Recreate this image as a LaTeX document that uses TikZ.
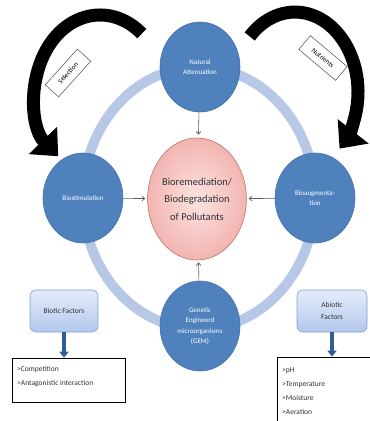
\documentclass[tikz,border=0pt]{standalone}
\usepackage{fontspec}
\setmainfont{Carlito}
\usetikzlibrary{arrows.meta,shapes.geometric}
\definecolor{cblue}{HTML}{4F81BD}
\definecolor{cblueline}{HTML}{4472B0}
\definecolor{ringc}{HTML}{B7C8E6}
\definecolor{pinkin}{HTML}{FBE3E1}
\definecolor{pinkout}{HTML}{F2B5B1}
\definecolor{pinkline}{HTML}{C0706C}
\definecolor{facttop}{HTML}{E3ECFA}
\definecolor{factbot}{HTML}{B4C8EC}
\definecolor{factline}{HTML}{7F9FD3}
\definecolor{darkarrow}{HTML}{2F5E96}
\definecolor{txt}{HTML}{333333}
\tikzset{
  bluecirc/.style={ellipse, fill=cblue, draw=cblueline, line width=0.6pt,
    minimum width=80pt, minimum height=90pt, inner sep=0pt, text=white,
    align=center, font=\fontsize{7}{10.5}\selectfont},
  pinkcirc/.style={ellipse, inner color=pinkin, outer color=pinkout, draw=pinkline,
    line width=0.6pt, minimum width=94pt, minimum height=122pt, inner sep=0pt,
    text=txt, align=center, font=\fontsize{10.5}{17.5}\selectfont},
  ringline/.style={draw=ringc, line width=10pt},
  bigarrow/.style={line width=13pt, black, -{Triangle[width=38pt,length=22pt]}},
  labelbox/.style={draw=black!70, fill=white, line width=0.5pt, minimum width=48pt,
    minimum height=18pt, inner sep=1pt, font=\fontsize{7}{8}\selectfont},
  smallarrow/.style={draw=black!65, line width=0.6pt, -{Straight Barb[length=3pt,width=5pt]}},
  factorbox/.style={rounded corners=6pt, top color=facttop, bottom color=factbot,
    draw=factline, line width=0.6pt, minimum width=68pt, minimum height=42pt,
    align=center, text=txt, font=\fontsize{7.5}{12}\selectfont},
  fatarrow/.style={draw=darkarrow, line width=3.5pt, -{Triangle[width=9pt,length=6pt]}},
  listbox/.style={draw=black, line width=0.6pt, fill=white, inner sep=0pt}
}
\begin{document}
\begin{tikzpicture}[x=1pt,y=-1pt]
\useasboundingbox (0,0) rectangle (370,421);
% ring
\draw[ringline] (199,198) ellipse [x radius=116, y radius=131];
% big curved arrows
\draw[bigarrow] (141.8,33.7) arc[start angle=-50, end angle=-230, x radius=65, y radius=80];
\draw[bigarrow] (249.7,36.5) arc[start angle=-136, end angle=45, x radius=63, y radius=80];
\node[labelbox, rotate=48] (sel) at (68,73) {Selection};
\node[labelbox, rotate=-40] (nut) at (323,58) {Nutrients};
% circles
\node[bluecirc] (na) at (200,67) {Natural\\Attenuation};
\node[bluecirc] (bs) at (83,198) {Biostimulation};
\node[bluecirc] (ba) at (315,198) {Bioaugmenta-\\tion};
\node[bluecirc] (gem) at (200,326) {Genetic\\Engineerd\\microorganisms\\(GEM)};
\node[pinkcirc] (pink) at (197,199) {Bioremediation/\\Biodegradation\\of Pollutants};
% small arrows
\draw[smallarrow, shorten >=3pt] (na) -- (pink);
\draw[smallarrow, shorten >=2pt] (bs) -- (pink);
\draw[smallarrow, shorten >=2pt] (ba) -- (pink);
\draw[smallarrow, shorten >=2pt] (gem) -- (pink);
% factors
\node[factorbox] (bf) at (64,311) {Biotic Factors};
\node[factorbox, minimum width=70pt] (af) at (332,311) {Abiotic\\Factors};
\node[listbox, minimum width=113pt, minimum height=44pt] (bl) at (68.5,380) {};
\node[listbox, minimum width=100pt, minimum height=80pt] (al) at (327,397) {};
\draw[fatarrow] (bf.south) -- (bf.south |- bl.north);
\draw[fatarrow] (af.south) -- (af.south |- al.north);
\node[anchor=west, text=txt, font=\fontsize{7.5}{14}\selectfont, align=left, inner sep=0pt] (bt) at (17,377)
  {>Competition\\>Antagonistic interaction};
\node[anchor=north west, text=txt, font=\fontsize{7.5}{14}\selectfont, align=left, inner sep=0pt] (at) at (282,367)
  {>pH\\>Temperature\\>Moisture\\>Aeration};
\end{tikzpicture}
\end{document}
